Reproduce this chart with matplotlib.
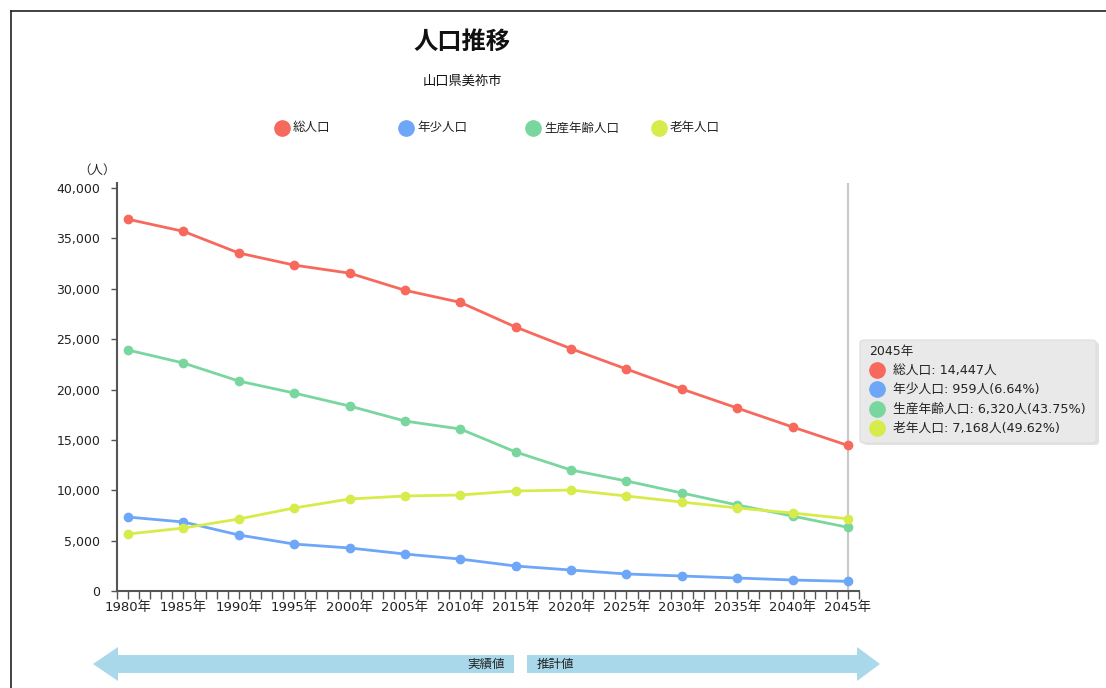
import matplotlib
matplotlib.use("Agg")
import matplotlib.pyplot as plt
from matplotlib.patches import Polygon, FancyBboxPatch
from matplotlib.lines import Line2D
from matplotlib.ticker import FuncFormatter, MultipleLocator, FixedLocator

plt.rcParams['font.family'] = ['DejaVu Sans', 'Noto Sans CJK JP']

years = [1980, 1985, 1990, 1995, 2000, 2005, 2010, 2015, 2020, 2025, 2030, 2035, 2040, 2045]
total = [36900, 35700, 33550, 32350, 31550, 29850, 28650, 26200, 24050, 22030, 20050, 18160, 16280, 14447]
young = [7340, 6850, 5560, 4660, 4270, 3670, 3170, 2480, 2080, 1690, 1490, 1290, 1090, 959]
working = [23920, 22630, 20840, 19650, 18360, 16870, 16080, 13800, 12010, 10920, 9730, 8540, 7440, 6320]
elderly = [5660, 6250, 7150, 8240, 9130, 9430, 9530, 9930, 10020, 9430, 8830, 8240, 7740, 7168]

series_names = ['総人口', '年少人口', '生産年齢人口', '老年人口']
colors = ['#f7695c', '#6ea6f8', '#79d69f', '#d7ec4a']
series = [total, young, working, elderly]

W, H = 1106, 688
fig = plt.figure(figsize=(W / 100, H / 100), dpi=100)

def fx(px):
    return px / W

def fy(py):
    return 1 - py / H

# frame border (screenshot)
fig.add_artist(Line2D([fx(11), fx(11)], [fy(11), 0], color='#222222', lw=1.2, transform=fig.transFigure))
fig.add_artist(Line2D([fx(11), 1], [fy(11), fy(11)], color='#222222', lw=1.2, transform=fig.transFigure))

ax = fig.add_axes([fx(117), fy(591), fx(859) - fx(117), fy(183) - fy(591)])

for vals, c in zip(series, colors):
    ax.plot(years, vals, color=c, lw=2.0, marker='o', markersize=6, zorder=3)

ax.axvline(years[-1], color='#c8c8c8', lw=1.5, zorder=2)

ax.set_xlim(1979, 2046)
ax.set_ylim(0, 40500)
for s in ['top', 'right']:
    ax.spines[s].set_visible(False)
for s in ['left', 'bottom']:
    ax.spines[s].set_color('#555555')
    ax.spines[s].set_linewidth(1.5)

ax.xaxis.set_major_locator(FixedLocator(years))
ax.xaxis.set_minor_locator(MultipleLocator(1))
ax.set_xticklabels([f'{y}年' for y in years])
ax.yaxis.set_major_locator(MultipleLocator(5000))
ax.yaxis.set_major_formatter(FuncFormatter(lambda v, p: f'{int(v):,}'))
ax.tick_params(axis='x', which='both', length=6, width=1, color='#555555', labelsize=9.5, pad=1, labelcolor='#222222')
ax.tick_params(axis='y', which='major', length=4, width=1, color='#555555', labelsize=9, pad=8, labelcolor='#222222')

fig.text(fx(97), fy(170), '（人）', ha='center', va='center', fontsize=9, color='#222222')

# title and subtitle
fig.text(fx(462), fy(42), '人口推移', ha='center', va='center', fontsize=17.5, fontweight='bold', color='#111111')
fig.text(fx(462), fy(81), '山口県美祢市', ha='center', va='center', fontsize=9.5, color='#111111')

# legend
leg_x = [282, 406, 533, 659]
for x, name, c in zip(leg_x, series_names, colors):
    fig.add_artist(Line2D([fx(x)], [fy(128)], marker='o', markersize=11, color=c, lw=0, transform=fig.transFigure))
    fig.text(fx(x + 11), fy(128), name, ha='left', va='center', fontsize=9, color='#222222')

# tooltip
fig.add_artist(FancyBboxPatch((fx(863), fy(445)), fx(1099) - fx(863), fy(342) - fy(445),
                              boxstyle='round,pad=0,rounding_size=0.004', transform=fig.transFigure,
                              facecolor='#d0d0d0', edgecolor='none', alpha=0.6))
fig.add_artist(FancyBboxPatch((fx(860), fy(443)), fx(1096) - fx(860), fy(340) - fy(443),
                              boxstyle='round,pad=0,rounding_size=0.004', transform=fig.transFigure,
                              facecolor='#e9e9e9', edgecolor='#dddddd', lw=0.8))
fig.text(fx(869), fy(352), f'{years[-1]}年', ha='left', va='center', fontsize=9, color='#222222')
row_y = [370, 389, 409, 428]
last_total = total[-1]
labels = [f'{series_names[0]}: {total[-1]:,}人']
for name, vals in zip(series_names[1:], series[1:]):
    labels.append(f'{name}: {vals[-1]:,}人({vals[-1] / last_total * 100:.2f}%)')
for yv, lab, c in zip(row_y, labels, colors):
    fig.add_artist(Line2D([fx(877)], [fy(yv)], marker='o', markersize=11, color=c, lw=0, transform=fig.transFigure))
    fig.text(fx(893), fy(yv), lab, ha='left', va='center', fontsize=9.2, color='#222222')

# bottom arrows
arrow_c = '#a9d8ea'
body_top, body_bot = 655, 673
head_top, head_bot = 647, 681
mid = 664
left_poly = [(93, mid), (118, head_top), (118, body_top), (514, body_top), (514, body_bot),
             (118, body_bot), (118, head_bot)]
right_poly = [(880, mid), (857, head_top), (857, body_top), (527, body_top), (527, body_bot),
              (857, body_bot), (857, head_bot)]
for poly in (left_poly, right_poly):
    fig.add_artist(Polygon([(fx(a), fy(b)) for a, b in poly], closed=True, transform=fig.transFigure,
                           facecolor=arrow_c, edgecolor='none'))
fig.text(fx(505), fy(664), '実績値', ha='right', va='center', fontsize=9, color='#222222')
fig.text(fx(537), fy(664), '推計値', ha='left', va='center', fontsize=9, color='#222222')

fig.savefig('out.png', dpi=100)
